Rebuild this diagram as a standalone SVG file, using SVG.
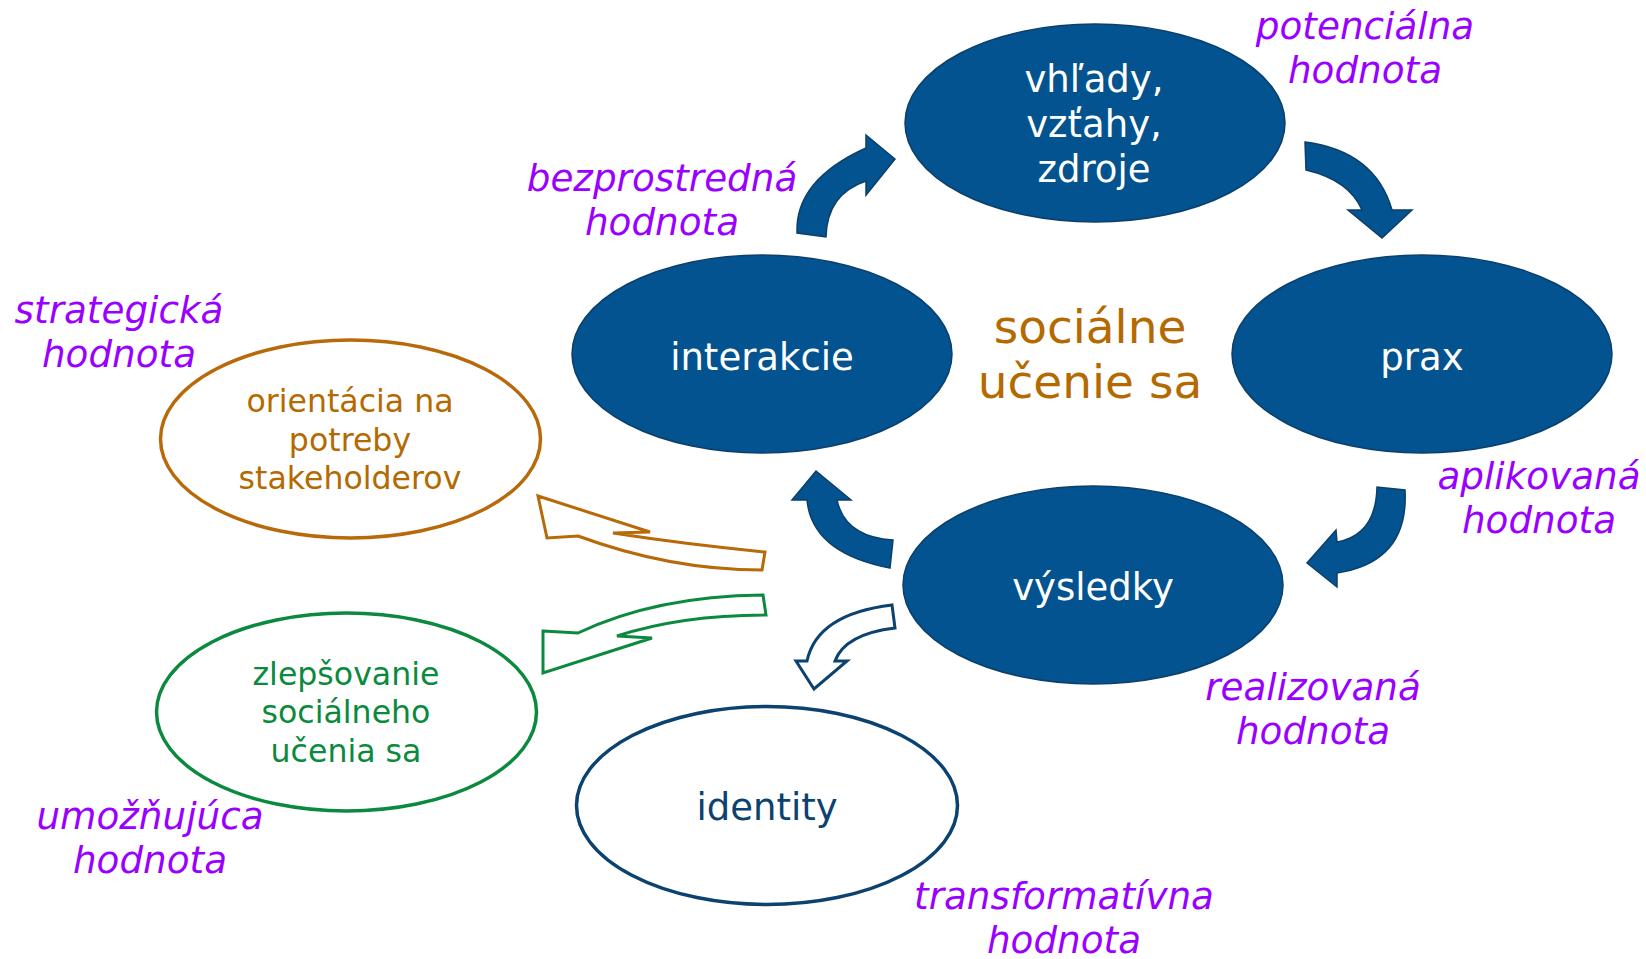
<svg xmlns="http://www.w3.org/2000/svg" width="1646" height="959" viewBox="0 0 1646 959">
  <style>
    text { font-family: "DejaVu Sans", Verdana, sans-serif; text-anchor: middle; }
    .core { fill: #02538F; stroke: #0C3F6B; stroke-width: 1.5; }
    .core-label { fill: #FFFFFF; font-size: 37px; }
    .value { fill: #9900FF; font-size: 37.3px; font-style: italic; }
    .centre { fill: #B46A00; font-size: 47px; }
    .ring { fill: #FFFFFF; stroke-width: 3.5; }
    .side-label { font-size: 31.6px; }
    .solid-arrow { fill: #02538F; stroke: #0C3F6B; stroke-width: 1.5; stroke-linejoin: miter; }
    .open-arrow { fill: #FFFFFF; stroke-width: 3; stroke-linejoin: miter; }
  </style>
  <rect width="1646" height="959" fill="#FFFFFF"/>

  <!-- cycle and side connectors -->
  <g id="connectors">
    <!-- interakcie -> vhlady -->
    <path class="solid-arrow" d="M797,233 Q795,180 866,148 L866,135 L895,159 L866,195 L866,181 Q827,194 826,237 Z"/>
    <!-- vhlady -> prax -->
    <path class="solid-arrow" d="M1305,142 Q1375,151 1392,210 L1412,210 L1382,238 L1348,210 L1362,210 Q1349,180 1306,170 Z"/>
    <!-- prax -> vysledky -->
    <path class="solid-arrow" d="M1405,490 Q1409,562 1337,573 L1337,587 L1307,563 L1336,530 L1337,542 Q1376,535 1377,487 Z"/>
    <!-- vysledky -> interakcie -->
    <path class="solid-arrow" d="M890,568 Q812,553 807,500 L792,500 L816,471 L851,500 L837,500 Q845,537 893,540 Z"/>
    <!-- vysledky -> identity -->
    <path class="open-arrow" stroke="#0B426F" d="M892,605 Q817,614 807,661 L796,661 L814,689 L847,661 L835,661 Q845,634 895,628 Z"/>
    <!-- towards orientacia -->
    <path class="open-arrow" stroke="#B8690A" stroke-width="2.6" d="M538,496 L650,532 L613,533 Q684,544 765,552 L762,570 Q670,570 578,536 L547,538 Z"/>
    <!-- towards zlepsovanie -->
    <path class="open-arrow" stroke="#0B8A3F" stroke-width="2.6" d="M543,631 L578,633 Q656,596 763,595 L766,615 Q682,615 617,636 L652,638 L543,673 Z"/>
  </g>

  <g id="node-vhlady">
    <ellipse class="core" cx="1095" cy="123" rx="190" ry="99"/>
    <text class="core-label" x="1094" y="92">vhľady,</text>
    <text class="core-label" x="1094" y="137">vzťahy,</text>
    <text class="core-label" x="1094" y="182">zdroje</text>
  </g>

  <g id="node-interakcie">
    <ellipse class="core" cx="762" cy="354" rx="190" ry="99"/>
    <text class="core-label" x="762" y="370">interakcie</text>
  </g>

  <g id="node-prax">
    <ellipse class="core" cx="1422" cy="354" rx="190" ry="99"/>
    <text class="core-label" x="1422" y="370">prax</text>
  </g>

  <g id="node-vysledky">
    <ellipse class="core" cx="1093" cy="585" rx="190" ry="99"/>
    <text class="core-label" x="1093" y="600">výsledky</text>
  </g>

  <g id="node-centre">
    <text class="centre" x="1090" y="343">sociálne</text>
    <text class="centre" x="1090" y="398">učenie sa</text>
  </g>

  <g id="node-orientacia">
    <ellipse class="ring" stroke="#B8690A" cx="350.5" cy="439" rx="190" ry="99"/>
    <text class="side-label" fill="#B46A00" x="350" y="412">orientácia na</text>
    <text class="side-label" fill="#B46A00" x="350" y="451">potreby</text>
    <text class="side-label" fill="#B46A00" x="350" y="489">stakeholderov</text>
  </g>

  <g id="node-zlepsovanie">
    <ellipse class="ring" stroke="#0B8A3F" cx="346.5" cy="712" rx="190" ry="99"/>
    <text class="side-label" fill="#0A8A3C" x="346" y="685">zlepšovanie</text>
    <text class="side-label" fill="#0A8A3C" x="346" y="723">sociálneho</text>
    <text class="side-label" fill="#0A8A3C" x="346" y="762">učenia sa</text>
  </g>

  <g id="node-identity">
    <ellipse class="ring" stroke="#0B426F" cx="767" cy="805.5" rx="190.5" ry="99"/>
    <text fill="#0B426F" font-size="37px" x="767" y="820">identity</text>
  </g>

  <!-- value labels -->
  <g id="label-potencialna">
    <text class="value" x="1365" y="39">potenciálna</text>
    <text class="value" x="1365" y="83">hodnota</text>
  </g>
  <g id="label-bezprostredna">
    <text class="value" x="662" y="191">bezprostredná</text>
    <text class="value" x="662" y="235">hodnota</text>
  </g>
  <g id="label-strategicka">
    <text class="value" x="119" y="323">strategická</text>
    <text class="value" x="119" y="367">hodnota</text>
  </g>
  <g id="label-aplikovana">
    <text class="value" x="1539" y="489">aplikovaná</text>
    <text class="value" x="1539" y="533">hodnota</text>
  </g>
  <g id="label-realizovana">
    <text class="value" x="1313" y="700">realizovaná</text>
    <text class="value" x="1313" y="744">hodnota</text>
  </g>
  <g id="label-umoznujuca">
    <text class="value" x="150" y="829">umožňujúca</text>
    <text class="value" x="150" y="873">hodnota</text>
  </g>
  <g id="label-transformativna">
    <text class="value" x="1064" y="909">transformatívna</text>
    <text class="value" x="1064" y="953">hodnota</text>
  </g>
</svg>
